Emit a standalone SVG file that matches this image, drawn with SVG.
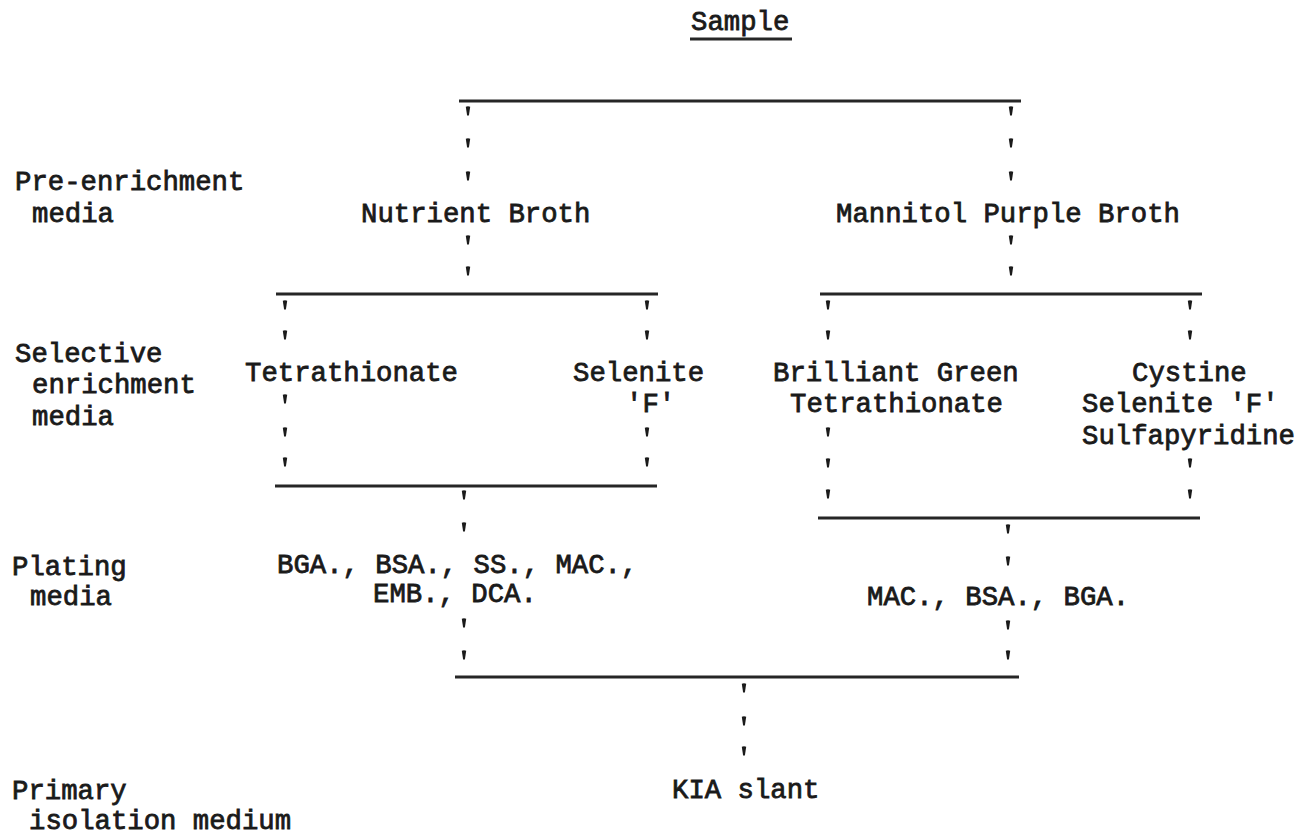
<svg xmlns="http://www.w3.org/2000/svg" xmlns:xlink="http://www.w3.org/1999/xlink" width="1309" height="837" viewBox="0 0 1309 837">
<style>
  text { font-family: "Liberation Mono", "Courier New", monospace; font-size: 27.3px; fill: #1a1a1a; stroke: #1a1a1a; stroke-width: 0.8px; }
  .hl { stroke: #262626; stroke-width: 2.8; fill: none; }
  .tick { fill: #1a1a1a; }
</style>
<defs>
  <path id="t" d="M -2.2,-4.2 Q 0,-5.4 2.2,-4.2 L 0.9,4.4 L -0.9,4.4 Z"/>
</defs>
<rect width="1309" height="837" fill="#ffffff"/>

<g id="labels">
  <text x="15" y="190">Pre-enrichment</text>
  <text x="32" y="222">media</text>
  <text x="15" y="362">Selective</text>
  <text x="32" y="393">enrichment</text>
  <text x="32" y="425">media</text>
  <text x="12" y="575">Plating</text>
  <text x="30" y="605">media</text>
  <text x="12" y="799">Primary</text>
  <text x="29" y="829">isolation medium</text>
</g>

<g id="sample">
  <text x="691" y="30">Sample</text>
  <line class="hl" x1="690" y1="39" x2="792" y2="39"/>
</g>
<g id="nutrient-broth"><text x="361" y="222">Nutrient Broth</text></g>
<g id="mannitol-purple-broth"><text x="836" y="222">Mannitol Purple Broth</text></g>
<g id="tetrathionate"><text x="245" y="381">Tetrathionate</text></g>
<g id="selenite-f">
  <text x="573" y="381">Selenite</text>
  <text x="626" y="412">'F'</text>
</g>
<g id="brilliant-green-tetrathionate">
  <text x="773" y="381">Brilliant Green</text>
  <text x="790" y="412">Tetrathionate</text>
</g>
<g id="cystine-selenite">
  <text x="1132" y="381">Cystine</text>
  <text x="1082" y="412">Selenite 'F'</text>
  <text x="1082" y="444">Sulfapyridine</text>
</g>
<g id="plating-left">
  <text x="277" y="573">BGA., BSA., SS., MAC.,</text>
  <text x="373" y="602">EMB., DCA.</text>
</g>
<g id="plating-right"><text x="867" y="605">MAC., BSA., BGA.</text></g>
<g id="kia-slant"><text x="672" y="798">KIA slant</text></g>

<g id="connectors">
  <line class="hl" x1="459" y1="101" x2="1021" y2="101"/>
  <line class="hl" x1="276" y1="294" x2="658" y2="294"/>
  <line class="hl" x1="820" y1="294" x2="1202" y2="294"/>
  <line class="hl" x1="275" y1="486" x2="657" y2="486"/>
  <line class="hl" x1="818" y1="518" x2="1200" y2="518"/>
  <line class="hl" x1="455" y1="677" x2="1019" y2="677"/>
  <g class="tick">
    <use xlink:href="#t" x="468" y="111"/><use xlink:href="#t" x="468" y="143"/><use xlink:href="#t" x="468" y="176"/>
    <use xlink:href="#t" x="468" y="240"/><use xlink:href="#t" x="468" y="271"/>
    <use xlink:href="#t" x="1011" y="111"/><use xlink:href="#t" x="1011" y="143"/><use xlink:href="#t" x="1011" y="176"/>
    <use xlink:href="#t" x="1011" y="240"/><use xlink:href="#t" x="1011" y="271"/>
    <use xlink:href="#t" x="285" y="305"/><use xlink:href="#t" x="285" y="335"/>
    <use xlink:href="#t" x="285" y="399"/><use xlink:href="#t" x="285" y="432"/><use xlink:href="#t" x="285" y="462"/>
    <use xlink:href="#t" x="647" y="305"/><use xlink:href="#t" x="647" y="335"/>
    <use xlink:href="#t" x="647" y="432"/><use xlink:href="#t" x="647" y="462"/>
    <use xlink:href="#t" x="828" y="305"/><use xlink:href="#t" x="828" y="335"/>
    <use xlink:href="#t" x="828" y="432"/><use xlink:href="#t" x="828" y="463"/><use xlink:href="#t" x="828" y="494"/>
    <use xlink:href="#t" x="1190" y="305"/><use xlink:href="#t" x="1190" y="335"/>
    <use xlink:href="#t" x="1190" y="463"/><use xlink:href="#t" x="1190" y="494"/>
    <use xlink:href="#t" x="464" y="495"/><use xlink:href="#t" x="464" y="527"/>
    <use xlink:href="#t" x="464" y="623"/><use xlink:href="#t" x="464" y="655"/>
    <use xlink:href="#t" x="1008" y="529"/><use xlink:href="#t" x="1008" y="561"/>
    <use xlink:href="#t" x="1008" y="625"/><use xlink:href="#t" x="1008" y="655"/>
    <use xlink:href="#t" x="744" y="688"/><use xlink:href="#t" x="744" y="721"/><use xlink:href="#t" x="744" y="751"/>
  </g>
</g>
</svg>
